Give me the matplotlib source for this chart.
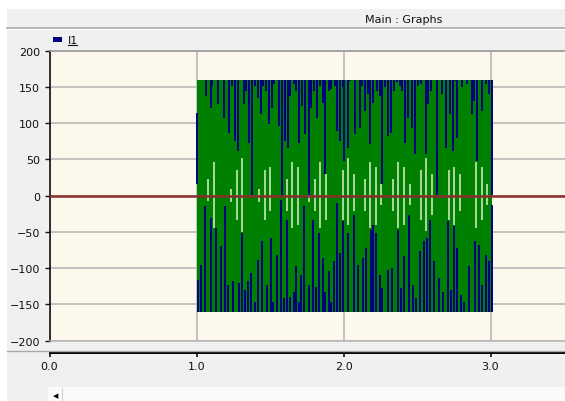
import matplotlib.pyplot as plt
from matplotlib.patches import Rectangle
from matplotlib.lines import Line2D

W, H = 565, 402

# envelope of the trace (green band)
env_t = [1.0, 3.01]
env_hi = [160, 160]
env_lo = [-160, -160]

# blue strokes hanging from the top (+160) down to these values
top_t = [1.068, 1.096, 1.107, 1.148, 1.187, 1.223, 1.243, 1.262, 1.280, 1.321, 1.337, 1.357, 1.380, 1.398, 1.416,
         1.437, 1.455, 1.471, 1.494, 1.512, 1.530, 1.564, 1.580, 1.603, 1.621, 1.639, 1.662, 1.680, 1.699, 1.717,
         1.735, 1.762, 1.780, 1.799, 1.819, 1.837, 1.858, 1.876, 1.899, 1.917, 1.940, 1.958, 1.976, 1.994,
         2.001, 2.031, 2.047, 2.076, 2.115, 2.126, 2.149, 2.167, 2.183, 2.201, 2.229, 2.245, 2.263, 2.281, 2.304,
         2.326, 2.342, 2.361, 2.381, 2.399, 2.417, 2.440, 2.463, 2.486, 2.504, 2.524, 2.559, 2.577, 2.593, 2.638,
         2.672, 2.700, 2.722, 2.745, 2.763, 2.775, 2.809, 2.843, 2.873, 2.888, 2.911, 2.945, 2.968, 2.991, 3.009]
top_end = [137.7, 121.6, 151.6, 126.2, 107.7, 87.0, 151.6, 75.4, 61.6, 126.2, 144.6, 73.1, 1.6, 151.6, 135.4,
           112.3, 151.6, 144.6, 98.5, 121.6, 153.9, 96.2, 1.6, 75.4, 66.2, 137.7, 153.9, 144.6, 73.1, 123.9,
           84.7, 1.6, 121.6, 144.6, 107.7, 151.6, 128.5, 29.3, 144.6, 147.0, 151.6, 89.3, 75.4, 149.3,
           47.8, 66.2, 158.5, 84.7, 93.9, 151.6, 117.0, 140.0, 70.8, 128.5, 144.6, 137.7, 15.5, 149.3, 82.4,
           87.0, 144.6, 156.2, 151.6, 144.6, 73.1, 107.7, 93.9, 57.0, 151.6, 153.9, 57.0, 126.2, 144.6, 1.6,
           140.0, 66.2, 112.3, 61.6, 158.5, 80.0, 149.3, 153.9, 112.3, 130.8, 47.8, 117.0, 153.9, 140.0, 1.6]

# blue strokes rising from the bottom (-160) up to these values
bot_t = [1.007, 1.034, 1.057, 1.096, 1.130, 1.166, 1.193, 1.216, 1.250, 1.289, 1.307, 1.330, 1.348, 1.371, 1.398,
         1.416, 1.444, 1.478, 1.507, 1.523, 1.546, 1.576, 1.598, 1.614, 1.637, 1.660, 1.676, 1.694, 1.712, 1.728,
         1.762, 1.790, 1.812, 1.830, 1.858, 1.876, 1.899, 1.917, 1.933, 1.956, 1.978,
         1.997, 2.031, 2.069, 2.099, 2.133, 2.154, 2.185, 2.199, 2.222, 2.245, 2.263, 2.304, 2.331, 2.372, 2.388,
         2.411, 2.445, 2.472, 2.490, 2.518, 2.547, 2.570, 2.586, 2.615, 2.650, 2.677, 2.713, 2.729, 2.752, 2.775,
         2.797, 2.820, 2.854, 2.895, 2.923, 2.945, 2.968, 2.991, 3.009]
bot_end = [-116.0, -95.3, -14.5, -30.7, -44.5, -69.9, -14.5, -123.0, -118.3, -120.6, -51.4, -129.9, -118.3, -106.8,
           -146.0, -88.3, -63.0, -123.0, -58.4, -146.0, -81.4, -5.3, -141.4, -33.0, -139.1, -132.2, -97.6, -146.0,
           -109.1, -14.5, -123.0, -33.0, -125.3, -51.4, -86.0, -132.2, -104.5, -146.0, -90.7, -9.9, -79.1,
           -35.3, -51.4, -26.0, -95.3, -86.0, -72.2, -46.8, -39.9, -51.4, -109.1, -127.6, -102.2, -99.9, -46.8,
           -127.6, -83.7, -26.0, -123.0, -141.4, -76.8, -63.0, -58.4, -33.0, -90.7, -113.7, -132.2, -35.3, -129.9,
           -42.2, -72.2, -136.8, -146.0, -97.6, -63.0, -67.6, -123.0, -81.4, -90.7, -12.2]

# first blue stroke at switch-on
first_t = [1.0]
first_lo = [15.5]
first_hi = [114.6]

# pale strokes around zero
light_t = [1.080, 1.118, 1.234, 1.273, 1.312, 1.425, 1.464, 1.501, 1.617, 1.653, 1.689, 1.767, 1.805, 1.842, 1.881,
           1.997, 2.028, 2.069, 2.144, 2.181, 2.220, 2.258, 2.336, 2.372, 2.411, 2.449, 2.524, 2.563, 2.600, 2.718,
           2.754, 2.791, 2.904, 2.941, 2.979]
light_lo = [-7.6, -44.5, -8.5, -33.9, -50.1, -8.5, -33.9, -21.5, -21.5, -44.5, -39.9, -8.5, -21.5, -44.5, -33.9,
            -33.9, -40.8, -21.5, -21.5, -44.5, -39.9, -13.1, -21.5, -44.5, -39.9, -13.1, -33.9, -49.1, -26.0, -33.9,
            -39.9, -21.5, -44.5, -33.9, -13.1]
light_hi = [22.4, 46.4, 9.9, 34.8, 51.5, 9.9, 34.8, 39.9, 22.4, 46.4, 39.9, 9.9, 22.4, 46.4, 29.3,
            34.8, 51.5, 29.3, 22.4, 46.4, 39.9, 15.5, 22.4, 46.4, 39.9, 15.5, 34.8, 51.5, 29.3, 34.8,
            39.9, 29.3, 46.4, 39.9, 15.5]

y_ticks = [-200, -150, -100, -50, 0, 50, 100, 150, 200]
x_ticks = [0, 1, 2, 3]
x_labels = ["0.0", "1.0", "2.0", "3.0"]

plt.rcParams['font.family'] = 'DejaVu Sans'
fig = plt.figure(figsize=(W / 100, H / 100), dpi=100, facecolor='#f0f0f0')


def box(x0, y0, x1, y1, color):
    # rectangle in pixel coords (y from top)
    fig.patches.append(Rectangle((x0 / W, 1 - y1 / H), (x1 - x0) / W, (y1 - y0) / H,
                                 transform=fig.transFigure, color=color, lw=0, zorder=0))


def hline(y, x0, x1, color, lw):
    fig.lines.append(Line2D([x0 / W, x1 / W], [1 - y / H, 1 - y / H], transform=fig.transFigure,
                            color=color, lw=lw))


# window chrome
box(0, 0, W, 10, 'white')
box(0, 10, 7, H, 'white')
hline(28.5, 7, W, '#a9a9a9', 1.2)
hline(29.8, 7, W, 'white', 0.8)
hline(351.5, 7, W, '#a9a9a9', 1.0)
box(48, 388, W, H, '#fafafa')
fig.text(53 / W, 1 - 396 / H, '\u25c0', fontsize=5, color='black', va='center')
fig.lines.append(Line2D([62 / W, 62 / W], [0, 1 - 389 / H], transform=fig.transFigure, color='#d0d0d0', lw=0.8))
fig.text(404 / W, 1 - 20 / H, 'Main : Graphs', fontsize=8, ha='center', va='center', color='#111111')

# legend
box(53, 38, 62, 43, '#000080')
fig.text(68 / W, 1 - 40.5 / H, 'I1', fontsize=8, va='center', color='#111111')
hline(46, 68, 77, '#111111', 0.8)

# plot area
x0_px, unit = 49.5, 147.0
y_top, y_bot = 51.7, 341.7
ax = fig.add_axes([x0_px / W, 1 - y_bot / H, (W - x0_px) / W, (y_bot - y_top) / H])
ax.set_facecolor('#fdf8ec')
ax.set_xlim(0, (W - x0_px) / unit)
ax.set_ylim(-200, 200)
ax.set_axisbelow(True)
ax.grid(True, color='#b4b4b4', lw=1.1)
ax.set_yticks(y_ticks)
ax.set_xticks(x_ticks)
ax.tick_params(axis='x', length=0, labelbottom=False)
ax.tick_params(axis='y', length=3.6, width=1, pad=3.2, labelsize=8, colors='#111111')
ax.spines['right'].set_visible(False)
ax.spines['top'].set_color('#9a9a9a')
ax.spines['top'].set_linewidth(1.2)
ax.spines['bottom'].set_color('#b4b4b4')
ax.spines['bottom'].set_linewidth(1.1)
ax.spines['left'].set_color('black')
ax.spines['left'].set_linewidth(1.1)

ax.fill_between(env_t, env_lo, env_hi, color='#008000', lw=0, zorder=2)
ax.vlines(light_t, light_lo, light_hi, color='#dcefc8', lw=1.1, zorder=3)
ax.vlines(top_t, top_end, 160, color='#000080', lw=1.4, zorder=4)
ax.vlines(bot_t, -160, bot_end, color='#000080', lw=1.4, zorder=4)
ax.vlines(first_t, first_lo, first_hi, color='#000080', lw=1.4, zorder=4)
ax.axhline(0, color='#8c2d2d', lw=1.8, zorder=5)

# separate time axis below
ax2 = fig.add_axes([x0_px / W, 1 - 353.5 / H, (W - x0_px) / W, 0.0001])
ax2.set_xlim(ax.get_xlim())
ax2.set_facecolor('none')
ax2.set_yticks([])
for s in ['left', 'right', 'top']:
    ax2.spines[s].set_visible(False)
ax2.spines['bottom'].set_linewidth(1.4)
ax2.set_xticks(x_ticks)
ax2.set_xticklabels(x_labels)
ax2.tick_params(axis='x', length=3, width=1.2, pad=3, labelsize=8, colors='#111111')

fig.savefig('out.png', dpi=100, facecolor=fig.get_facecolor())
